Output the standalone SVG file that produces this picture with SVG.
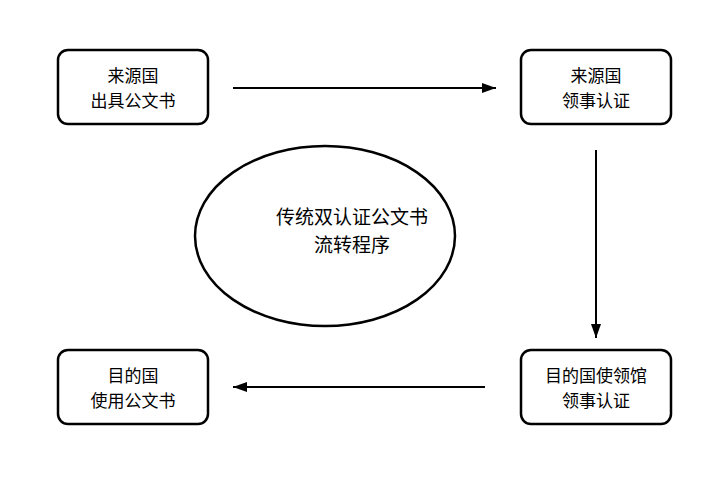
<svg xmlns="http://www.w3.org/2000/svg" width="710" height="492" viewBox="0 0 710 492">
<style>
.box{fill:#fff;stroke:#000;stroke-width:2.5}
.t{font-family:"Noto Sans CJK SC","Noto Sans",sans-serif;font-size:17px;fill:#000;text-anchor:middle}
.te{font-family:"Noto Sans CJK SC","Noto Sans",sans-serif;font-size:19px;fill:#000;text-anchor:middle}
.c{stroke:#000;stroke-width:2;fill:none}
</style>
<defs>
<marker id="ah" viewBox="0 0 14 10" refX="14" refY="5" markerWidth="14" markerHeight="10" markerUnits="userSpaceOnUse" orient="auto">
<path d="M0,0 L14,5 L0,10 Z" fill="#000"/>
</marker>
</defs>
<rect width="710" height="492" fill="#fff"/>
<g id="n1"><rect class="box" x="58" y="50" width="150" height="74" rx="10"/><text class="t" x="133" y="82">来源国</text><text class="t" x="133" y="107">出具公文书</text></g>
<g id="n2"><rect class="box" x="521" y="50" width="150" height="74" rx="10"/><text class="t" x="596" y="82">来源国</text><text class="t" x="596" y="107">领事认证</text></g>
<g id="n3"><rect class="box" x="521" y="350" width="150" height="74" rx="10"/><text class="t" x="596" y="382">目的国使领馆</text><text class="t" x="596" y="407">领事认证</text></g>
<g id="n4"><rect class="box" x="58" y="350" width="150" height="74" rx="10"/><text class="t" x="133" y="382">目的国</text><text class="t" x="133" y="407">使用公文书</text></g>
<g id="center"><ellipse class="box" cx="325" cy="236" rx="130" ry="90"/><text class="te" x="352" y="224">传统双认证公文书</text><text class="te" x="352" y="252">流转程序</text></g>
<g id="connectors">
<line class="c" x1="233" y1="88" x2="496" y2="88" marker-end="url(#ah)"/>
<line class="c" x1="596" y1="150" x2="596" y2="338" marker-end="url(#ah)"/>
<line class="c" x1="485" y1="387" x2="233" y2="387" marker-end="url(#ah)"/>
</g>
</svg>
